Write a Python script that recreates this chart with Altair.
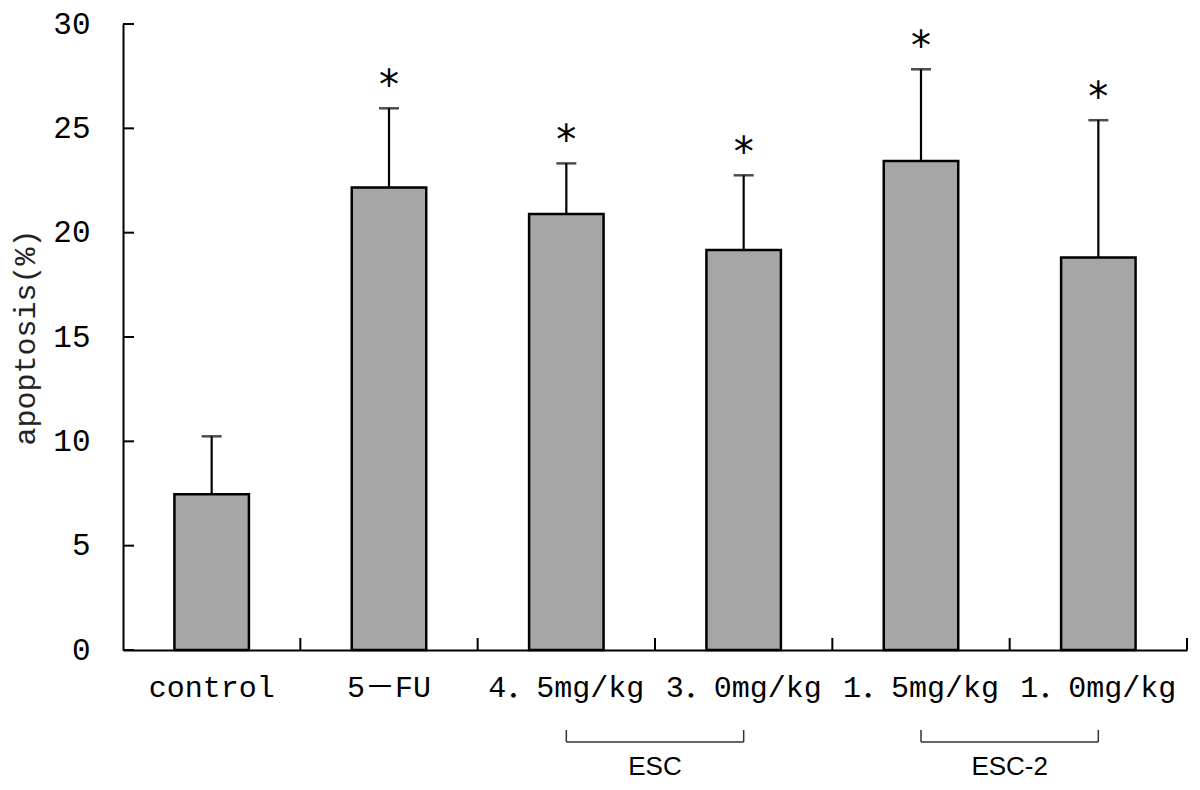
import altair as alt
import pandas as pd

categories = ["control", "5－FU", "4．5mg/kg", "3．0mg/kg", "1．5mg/kg", "1．0mg/kg"]
means = [7.47, 22.17, 20.90, 19.17, 23.43, 18.81]
sds = [2.77, 3.79, 2.42, 3.58, 4.40, 6.58]
signif = ["", "*", "*", "*", "*", "*"]
y_ticks = [0, 5, 10, 15, 20, 25, 30]
groups = ["ESC", "ESC-2"]
group_start = ["4．5mg/kg", "1．5mg/kg"]
group_end = ["3．0mg/kg", "1．0mg/kg"]

df = pd.DataFrame({"cat": categories, "mean": means, "sd": sds, "sig": signif})
df["top"] = df["mean"] + df["sd"]
ticks_df = pd.DataFrame({"v": y_ticks})
grp_df = pd.DataFrame({"name": groups, "start": group_start, "end": group_end})
ends_df = pd.DataFrame({"cat": group_start + group_end})

MONO = "'Liberation Mono', 'Noto Sans CJK JP'"
xscale = alt.Scale(domain=categories, paddingInner=0, paddingOuter=0)
X = alt.X("cat:N", sort=None, scale=xscale,
          axis=alt.Axis(title=None, labelAngle=0, ticks=False, domainColor="black",
                        domainWidth=2, labelFont=MONO, labelFontSize=30,
                        labelColor="black", labelPadding=22))
Y = alt.Y("mean:Q", scale=alt.Scale(domain=[0, 30], nice=False),
          axis=alt.Axis(title="apoptosis(%)", values=y_ticks, ticks=False, grid=False,
                        domainColor="black", domainWidth=2, labelFont=MONO,
                        labelFontSize=31, labelColor="black", labelPadding=33,
                        titleFont=MONO, titleFontSize=30, titleFontWeight="normal",
                        titleColor="#222222", titlePadding=12))

base = alt.Chart(df)
bars = base.mark_bar(color="#a6a6a6", stroke="black", strokeWidth=2.5,
                     width=alt.RelativeBandSize(0.42)).encode(x=X, y=Y)
err = base.mark_rule(color="black", strokeWidth=2.2).encode(
    x=alt.X("cat:N", sort=None), y="mean:Q", y2="top:Q"
)
caps = base.mark_tick(color="black", thickness=2.5, size=20, orient="horizontal").encode(
    x=alt.X("cat:N", sort=None), y="top:Q"
)
stars = base.mark_text(font="DejaVu Sans", fontSize=40, color="black",
                       baseline="alphabetic", dy=-9).encode(
    x=alt.X("cat:N", sort=None), y="top:Q", text="sig:N"
)
ytick_marks = alt.Chart(ticks_df).mark_rule(color="black", strokeWidth=2).encode(
    y="v:Q", x=alt.value(0), x2=alt.value(11)
)
xtick_marks = base.mark_rule(color="black", strokeWidth=2).encode(
    x=alt.X("cat:N", sort=None, bandPosition=1), y=alt.value(626), y2=alt.value(614)
)
bracket_h = alt.Chart(grp_df).mark_rule(color="#333333", strokeWidth=1.5).encode(
    x=alt.X("start:N", sort=None), x2="end:N", y=alt.value(718)
)
bracket_v = alt.Chart(ends_df).mark_rule(color="#333333", strokeWidth=1.5).encode(
    x=alt.X("cat:N", sort=None), y=alt.value(706), y2=alt.value(718)
)
grp_text = alt.Chart(grp_df).mark_text(font="Liberation Sans", fontSize=26,
                                       color="black", baseline="alphabetic").encode(
    x=alt.X("start:N", sort=None, bandPosition=1), y=alt.value(751), text="name:N"
)

chart = alt.layer(bars, err, caps, stars, ytick_marks, xtick_marks,
                  bracket_h, bracket_v, grp_text).properties(
    width=1064, height=626,
    autosize=alt.AutoSizeParams(type="none"),
    padding={"left": 115, "top": 16, "right": 5, "bottom": 132},
    background="white",
).configure_view(stroke=None)

chart.save("out.html", embed_options={"renderer": "svg", "actions": False})
